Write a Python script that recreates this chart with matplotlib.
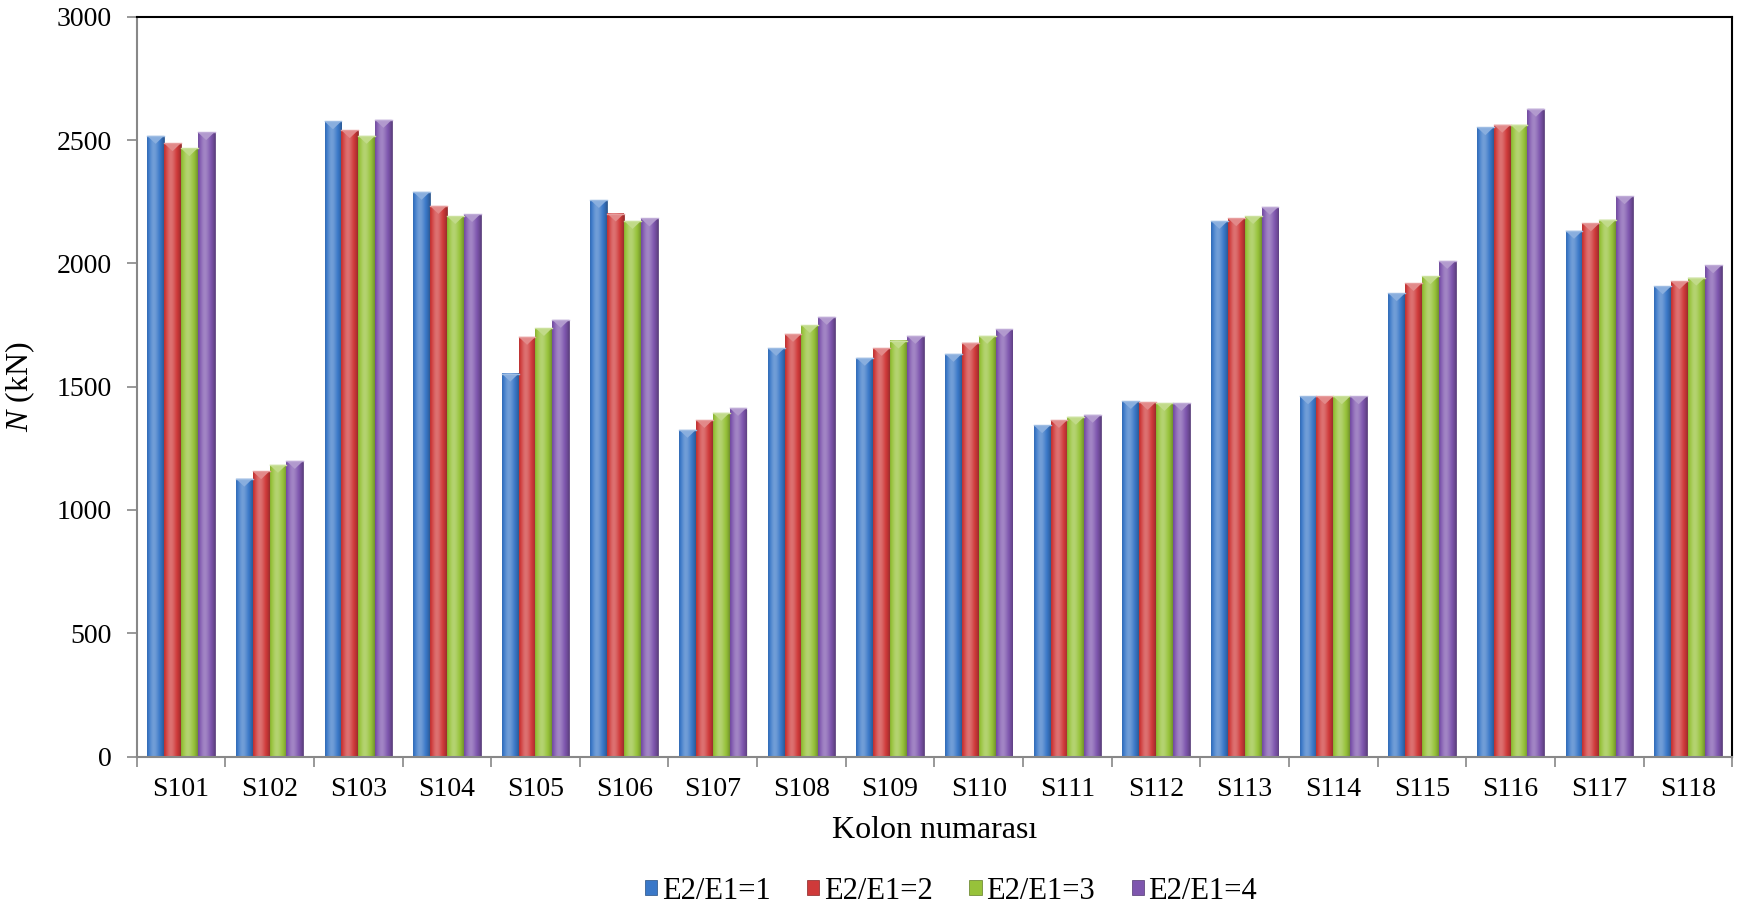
import numpy as np
import matplotlib.pyplot as plt
from matplotlib.patches import Polygon
from matplotlib.colors import to_rgb

plt.rcParams['font.family'] = ['Liberation Serif', 'DejaVu Serif']
plt.rcParams['mathtext.fontset'] = 'custom'
plt.rcParams['mathtext.it'] = 'Liberation Serif:italic'
plt.rcParams['mathtext.rm'] = 'Liberation Serif'

columns = ['S101', 'S102', 'S103', 'S104', 'S105', 'S106', 'S107', 'S108', 'S109',
           'S110', 'S111', 'S112', 'S113', 'S114', 'S115', 'S116', 'S117', 'S118']
ratio_1 = [2517, 1127, 2576, 2290, 1553, 2257, 1325, 1657, 1617,
           1633, 1344, 1442, 2172, 1461, 1879, 2552, 2132, 1907]
ratio_2 = [2487, 1157, 2540, 2233, 1702, 2202, 1365, 1714, 1657,
           1678, 1365, 1438, 2183, 1461, 1920, 2562, 2162, 1927]
ratio_3 = [2467, 1183, 2517, 2192, 1738, 2172, 1394, 1750, 1687,
           1706, 1378, 1434, 2192, 1461, 1948, 2562, 2177, 1942]
ratio_4 = [2532, 1199, 2582, 2200, 1771, 2182, 1414, 1783, 1706,
           1734, 1386, 1434, 2229, 1461, 2010, 2627, 2272, 1992]
series = [ratio_1, ratio_2, ratio_3, ratio_4]
labels = ['E2/E1=1', 'E2/E1=2', 'E2/E1=3', 'E2/E1=4']
colors = ['#3a78c8', '#cf3a3a', '#97c23a', '#7e56ae']

fig = plt.figure(figsize=(17.42, 9.13), dpi=100)
ax = fig.add_axes([0.0784, 0.1713, 0.9160, 0.8104])

x = np.arange(len(columns))
w = 0.19
ymax = 3000
ax_h_px = 0.8104 * 913


def shade(c, f):
    c = np.array(to_rgb(c))
    if f >= 0:
        return c + (1 - c) * f
    return c * (1 + f)


def bar_gradient(color, n=40):
    t = np.linspace(0, 1, n)
    # lighter near the left-centre, darker at both edges
    prof = 0.28 * np.exp(-((t - 0.4) / 0.28) ** 2) - 0.25 * (np.abs(t - 0.45) / 0.55) ** 3
    return np.array([shade(color, p) for p in prof])[None, :, :]


handles = []
for i, (vals, lab, col) in enumerate(zip(series, labels, colors)):
    bars = ax.bar(x + (i - 1.5) * w, vals, width=w, color=col, label=lab,
                  edgecolor=shade(col, -0.35), linewidth=0.5, zorder=2)
    handles.append(bars)
    grad = bar_gradient(col)
    tri_h = 8 * ymax / ax_h_px
    for b in bars:
        x0, bw, h = b.get_x(), b.get_width(), b.get_height()
        # soft drop shadow
        ax.bar(x0 + bw / 2 + 0.012, h, width=bw, bottom=-8, color='#000000',
               alpha=0.08, zorder=1.5, linewidth=0)
        ax.imshow(grad, extent=(x0, x0 + bw, 0, h), aspect='auto',
                  interpolation='bilinear', zorder=2.5)
        tri = Polygon([(x0, h), (x0 + bw, h), (x0 + bw / 2, h - tri_h)],
                      closed=True, facecolor=shade(col, 0.4),
                      edgecolor='none', zorder=3)
        ax.add_patch(tri)
        ax.plot([x0, x0 + bw], [h, h], color=shade(col, 0.5), lw=1, zorder=3.2)

ax.set_aspect('auto')
ax.set_xlim(-0.5, len(columns) - 0.5)
ax.set_ylim(0, ymax)
ax.set_yticks(np.arange(0, 3001, 500))
ax.set_xticks(x)
ax.set_xticklabels(columns)
ax.set_xticks(np.arange(-0.5, len(columns)), minor=True)
ax.tick_params(axis='x', which='major', length=0, pad=15, labelsize=20)
ax.tick_params(axis='x', which='minor', length=7, color='#888888', width=1.2,
               direction='out')
ax.tick_params(axis='y', length=7, color='#888888', width=1.2, labelsize=20, pad=11)

for s in ['left', 'bottom']:
    ax.spines[s].set_color('#888888')
    ax.spines[s].set_linewidth(1.5)
for s in ['top', 'right']:
    ax.spines[s].set_color('black')
    ax.spines[s].set_linewidth(1.5)

ax.set_xlabel('Kolon numarası', fontsize=23, labelpad=10)
ax.set_ylabel(r'$\mathit{N}$ (kN)', fontsize=23, labelpad=14)

leg = fig.legend(handles=handles, labels=labels, loc='center',
                 bbox_to_anchor=(0.546, 0.024), ncol=4, frameon=False,
                 fontsize=22, handlelength=0.4, handleheight=0.4,
                 handletextpad=0.15, columnspacing=1.2)

fig.savefig('out.png', dpi=100)
